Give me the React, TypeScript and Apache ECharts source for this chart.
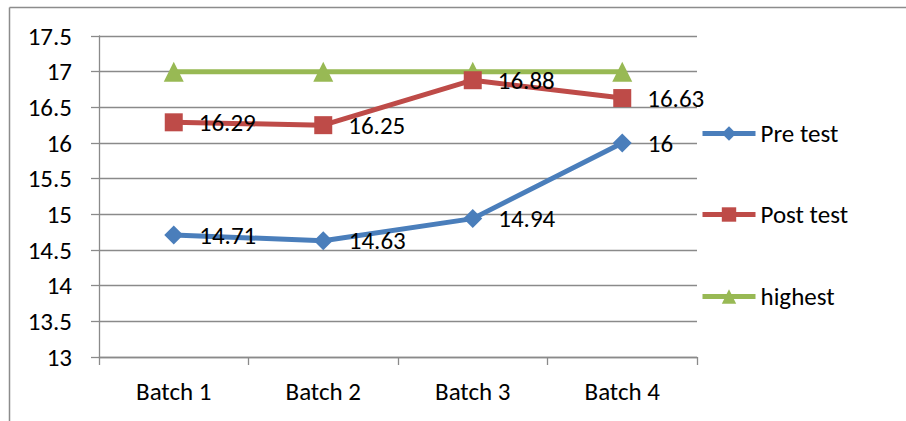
import React, { useEffect, useRef } from "react";
import * as echarts from "echarts";

const categories = ["Batch 1", "Batch 2", "Batch 3", "Batch 4"];
const preTest = [14.71, 14.63, 14.94, 16];
const postTest = [16.29, 16.25, 16.88, 16.63];
const highest = [17, 17, 17, 17];
const yMin = 13;
const yMax = 17.5;
const yInterval = 0.5;

const FONT = "Carlito, Lato, 'Noto Sans', sans-serif";
const FS = 25;
const GRID_COLOR = "#8a8a8a";

export default function App() {
  const ref = useRef<HTMLDivElement>(null);
  useEffect(() => {
    if (!ref.current) return;
    const chart = echarts.init(ref.current, undefined, { renderer: "svg" });
    const labelCfg = {
      show: true,
      position: "right" as const,
      distance: 16,
      color: "#000",
      fontSize: FS,
      fontFamily: FONT,
    };
    const legendText = { color: "#000", fontSize: FS, fontFamily: FONT, lineHeight: 24, padding: [0, 0, 0, 0] };
    const legendBase = {
      orient: "vertical" as const,
      left: 695,
      itemWidth: 53,
      itemHeight: 18,
      padding: 5,
      textStyle: legendText,
      lineStyle: { width: 5 },
    };
    chart.setOption({
      animation: false,
      backgroundColor: "#fff",
      textStyle: { fontFamily: FONT },
      grid: { left: 99, right: 209, top: 36, bottom: 64 },
      legend: [
        { ...legendBase, data: ["Pre test"], top: 116 },
        { ...legendBase, data: ["Post test"], top: 197 },
        { ...legendBase, data: ["highest"], top: 279 },
      ],
      xAxis: {
        type: "category",
        data: categories,
        boundaryGap: true,
        axisLine: { show: true, lineStyle: { color: GRID_COLOR, width: 1.3 } },
        axisTick: { show: true, length: 8, lineStyle: { color: GRID_COLOR, width: 1.3 } },
        axisLabel: { color: "#000", fontSize: FS, fontFamily: FONT, margin: 22 },
        splitLine: { show: false },
      },
      yAxis: {
        type: "value",
        min: yMin,
        max: yMax,
        interval: yInterval,
        axisLine: { show: true, lineStyle: { color: GRID_COLOR, width: 1.3 } },
        axisTick: { show: true, length: 8, lineStyle: { color: GRID_COLOR, width: 1.3 } },
        axisLabel: { color: "#000", fontSize: FS, fontFamily: FONT, margin: 27 },
        splitLine: { show: true, lineStyle: { color: GRID_COLOR, width: 1.3 } },
      },
      series: [
        {
          name: "Pre test",
          type: "line",
          data: preTest,
          symbol: "diamond",
          symbolSize: 19,
          lineStyle: { color: "#4a7ebb", width: 5 },
          itemStyle: { color: "#4a7ebb" },
          label: labelCfg,
          z: 3,
        },
        {
          name: "Post test",
          type: "line",
          data: postTest,
          symbol: "rect",
          symbolSize: 18,
          lineStyle: { color: "#be4b48", width: 5 },
          itemStyle: { color: "#be4b48" },
          label: labelCfg,
          z: 2,
        },
        {
          name: "highest",
          type: "line",
          data: highest,
          symbol: "triangle",
          symbolSize: 20,
          lineStyle: { color: "#98b954", width: 5 },
          itemStyle: { color: "#98b954" },
          label: { show: false },
          z: 1,
        },
      ],
      graphic: [
        {
          type: "line",
          shape: { x1: 9.5, y1: 7.5, x2: 906, y2: 7.5 },
          style: { stroke: "#8c8c8c", lineWidth: 1.5 },
        },
        {
          type: "line",
          shape: { x1: 9.5, y1: 7.5, x2: 9.5, y2: 421 },
          style: { stroke: "#8c8c8c", lineWidth: 1.5 },
        },
      ],
    });
    return () => chart.dispose();
  }, []);
  return (
    <div
      ref={ref}
      style={{ position: "absolute", left: 0, top: 0, width: 906, height: 421 }}
    />
  );
}
